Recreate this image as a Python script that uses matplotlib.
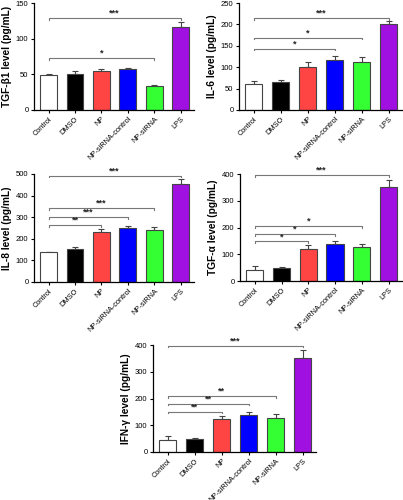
import matplotlib
matplotlib.use("Agg")
import matplotlib.pyplot as plt
import numpy as np

plt.rcParams['font.family'] = ['Liberation Sans', 'DejaVu Sans']

categories = ["Control", "DMSO", "NP", "NP-siRNA-control", "NP-siRNA", "LPS"]
colors = ["#FFFFFF", "#000000", "#FF4444", "#0000FF", "#33FF33", "#A010E0"]

tgfb1_mean = [49, 50, 55, 57, 33, 116]
tgfb1_err = [2, 5, 2, 2, 2, 7]
tgfb1_sig = [(0, 5, 129, "***"), (0, 4, 73, "*")]

il6_mean = [60, 65, 101, 116, 111, 201]
il6_err = [8, 6, 10, 11, 14, 7]
il6_sig = [(0, 5, 215, "***"), (0, 4, 169, "*"), (0, 3, 143, "*")]

il8_mean = [138, 155, 233, 250, 242, 453]
il8_err = [3, 8, 11, 10, 13, 24]
il8_sig = [(0, 5, 492, "***"), (0, 4, 343, "***"), (0, 3, 300, "***"), (0, 2, 264, "**")]

tgfa_mean = [42, 47, 120, 137, 128, 350]
tgfa_err = [15, 6, 14, 12, 12, 28]
tgfa_sig = [(0, 5, 395, "***"), (0, 4, 206, "*"), (0, 3, 176, "*"), (0, 2, 148, "*")]

ifng_mean = [45, 50, 122, 138, 128, 351]
ifng_err = [13, 4, 13, 13, 13, 30]
ifng_sig = [(0, 5, 397, "***"), (0, 4, 209, "**"), (0, 3, 180, "**"), (0, 2, 151, "**")]

panels = [
    dict(rect=[34/403, 1-110/500, 160/403, 107/500], mean=tgfb1_mean, err=tgfb1_err, sig=tgfb1_sig,
         ylabel="TGF-β1 level (pg/mL)", ymax=150, step=50),
    dict(rect=[239/403, 1-110/500, 163/403, 107/500], mean=il6_mean, err=il6_err, sig=il6_sig,
         ylabel="IL-6 level (pg/mL)", ymax=250, step=50),
    dict(rect=[34/403, 1-282/500, 160/403, 108/500], mean=il8_mean, err=il8_err, sig=il8_sig,
         ylabel="IL-8 level (pg/mL)", ymax=500, step=100),
    dict(rect=[240/403, 1-281/500, 162/403, 107/500], mean=tgfa_mean, err=tgfa_err, sig=tgfa_sig,
         ylabel="TGF-α level (pg/mL)", ymax=400, step=100),
    dict(rect=[153/403, 1-452/500, 163/403, 107/500], mean=ifng_mean, err=ifng_err, sig=ifng_sig,
         ylabel="IFN-γ level (pg/mL)", ymax=400, step=100),
]

fig = plt.figure(figsize=(4.03, 5.0), dpi=100)
x = np.arange(len(categories))
for p in panels:
    ax = fig.add_axes(p["rect"])
    ax.bar(x, p["mean"], width=0.64, color=colors, edgecolor="#444444", linewidth=0.8, zorder=2)
    ax.errorbar(x, p["mean"], yerr=[np.zeros(len(x)), p["err"]], fmt="none",
                ecolor="#444444", elinewidth=0.8, capsize=2.5, capthick=0.8, zorder=1)
    ymax = p["ymax"]
    ax.set_ylim(0, ymax)
    ax.set_xlim(-0.55, 5.5)
    ax.set_yticks(np.arange(0, ymax + 1, p["step"]))
    ax.set_xticks(x)
    ax.set_xticklabels(categories, rotation=45, ha="right", rotation_mode="anchor", fontsize=5.3)
    ax.tick_params(axis="y", labelsize=5.5, length=2.5, width=0.8, pad=1.5)
    ax.tick_params(axis="x", length=2.5, width=0.8, pad=1.5)
    for s in ["top", "right"]:
        ax.spines[s].set_visible(False)
    for s in ["left", "bottom"]:
        ax.spines[s].set_linewidth(0.9)
    ax.set_ylabel(p["ylabel"], fontsize=7.3, fontweight="bold", labelpad=3)
    tick = ymax * 0.015
    for (i, j, y, star) in p["sig"]:
        ax.plot([i, i, j, j], [y - tick, y, y, y - tick], color="#777777", lw=0.8, clip_on=False)
        ax.text((i + j) / 2, y + ymax * 0.003, star, ha="center", va="bottom", fontsize=6.5,
                fontweight="bold", color="#222222")

fig.savefig("out.png", dpi=100)
